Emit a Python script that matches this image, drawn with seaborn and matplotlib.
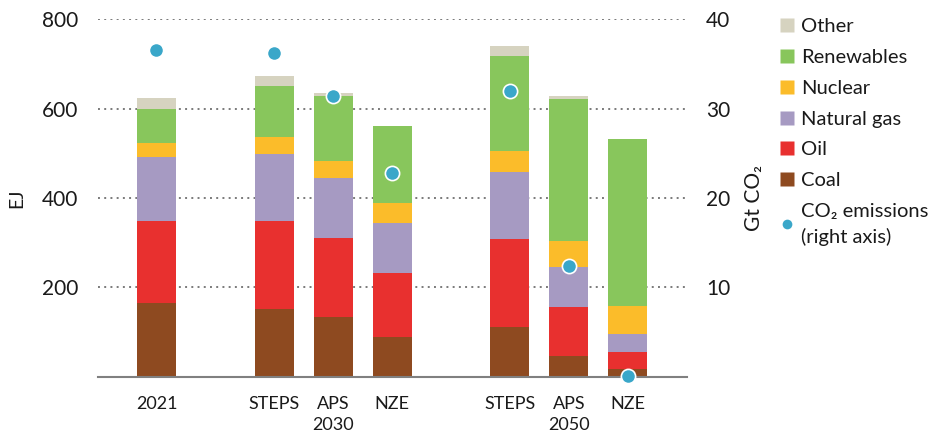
import numpy as np
import matplotlib
matplotlib.use("Agg")
import matplotlib.pyplot as plt
from matplotlib.lines import Line2D
import matplotlib.transforms as mtransforms
import seaborn as sns
import pandas as pd

# scenario bars (EJ) and CO2 emissions (Gt CO2)
scenarios = ["2021", "STEPS", "APS", "NZE", "STEPS", "APS", "NZE"]
positions = [0, 2, 3, 4, 6, 7, 8]
groups = ["2030", "2050"]
group_pos = [3, 7]

coal = [164, 151, 133, 88, 111, 46, 17]
oil = [184, 197, 178, 143, 197, 109, 38]
natural_gas = [144, 150, 133, 114, 149, 91, 40]
nuclear = [32, 38, 39, 43, 48, 58, 64]
renewables = [74, 115, 144, 172, 213, 317, 372]
other = [25, 22, 7, 0, 22, 7, 0]
co2 = [36.6, 36.2, 31.4, 22.8, 32.0, 12.4, 0.1]

layers = ["Coal", "Oil", "Natural gas", "Nuclear", "Renewables", "Other"]
values = [coal, oil, natural_gas, nuclear, renewables, other]
colors = ["#8e4a20", "#e8302f", "#a69ac2", "#fbbc2a", "#88c65c", "#d6d3c0"]
co2_color = "#3aa7c9"

sns.set_theme(style="white")
plt.rcParams["font.family"] = ["Lato", "DejaVu Sans"]
txt = "#1a1a1a"

df = pd.DataFrame(dict(zip(layers, values)))
df["pos"] = positions
cum = df[layers].cumsum(axis=1)

fig = plt.figure(figsize=(9.38, 4.36), dpi=100)
ax = fig.add_axes([0.104, 0.136, 0.628, 0.820])

# draw cumulative tops, tallest first so lower layers sit on top
for name, col in reversed(list(zip(layers, colors))):
    sns.barplot(x=df["pos"], y=cum[name], native_scale=True, color=col,
                saturation=1, width=0.66, errorbar=None, linewidth=0, ax=ax)

ax.set_xlim(-1, 9)
ax.set_ylim(0, 800)
ax.set_yticks([200, 400, 600, 800])
ax.yaxis.grid(True, linestyle=(0, (1, 2.2)), color="#7a7a7a", linewidth=1.4)
ax.set_axisbelow(True)
ax.set_xticks(positions)
ax.set_xticklabels(scenarios)
ax.tick_params(axis="both", length=0, colors=txt)
ax.tick_params(axis="x", pad=14, labelsize=13)
ax.tick_params(axis="y", pad=14, labelsize=15)
ax.set_xlabel("")
ax.set_ylabel("EJ", fontsize=14, labelpad=12, color=txt)
for s in ["top", "left", "right"]:
    ax.spines[s].set_visible(False)
ax.spines["bottom"].set_color("#808080")
ax.spines["bottom"].set_linewidth(1.5)

trans = mtransforms.blended_transform_factory(ax.transData, ax.transAxes)
for g, p in zip(groups, group_pos):
    ax.text(p, -0.112, g, transform=trans, ha="center", va="top",
            fontsize=13, color=txt)

ax2 = ax.twinx()
sns.scatterplot(x=positions, y=co2, color=co2_color, s=105, edgecolor="white",
                linewidth=1.2, zorder=5, clip_on=False, ax=ax2)
ax2.set_ylim(0, 40)
ax2.set_yticks([10, 20, 30, 40])
ax2.tick_params(axis="y", length=0, labelsize=15, pad=14, colors=txt)
ax2.set_ylabel("Gt CO\u2082", fontsize=15, labelpad=10, color=txt)
for s in ax2.spines.values():
    s.set_visible(False)

handles = [Line2D([], [], marker="s", linestyle="", markersize=10,
                  markerfacecolor=c, markeredgecolor="none")
           for c in reversed(colors)]
handles.append(Line2D([], [], marker="o", linestyle="", markersize=7,
                      markerfacecolor=co2_color, markeredgecolor="none"))
labels = list(reversed(layers)) + ["CO\u2082 emissions\n(right axis)"]
leg = fig.legend(handles, labels, loc="upper left", bbox_to_anchor=(0.822, 0.977),
                 frameon=False, prop={"size": 14.5}, handlelength=0.8,
                 handletextpad=0.3, labelspacing=0.68, borderaxespad=0,
                 labelcolor=txt)
for t in leg.get_texts():
    t.set_linespacing(1.55)

fig.savefig("out.png", dpi=100)
